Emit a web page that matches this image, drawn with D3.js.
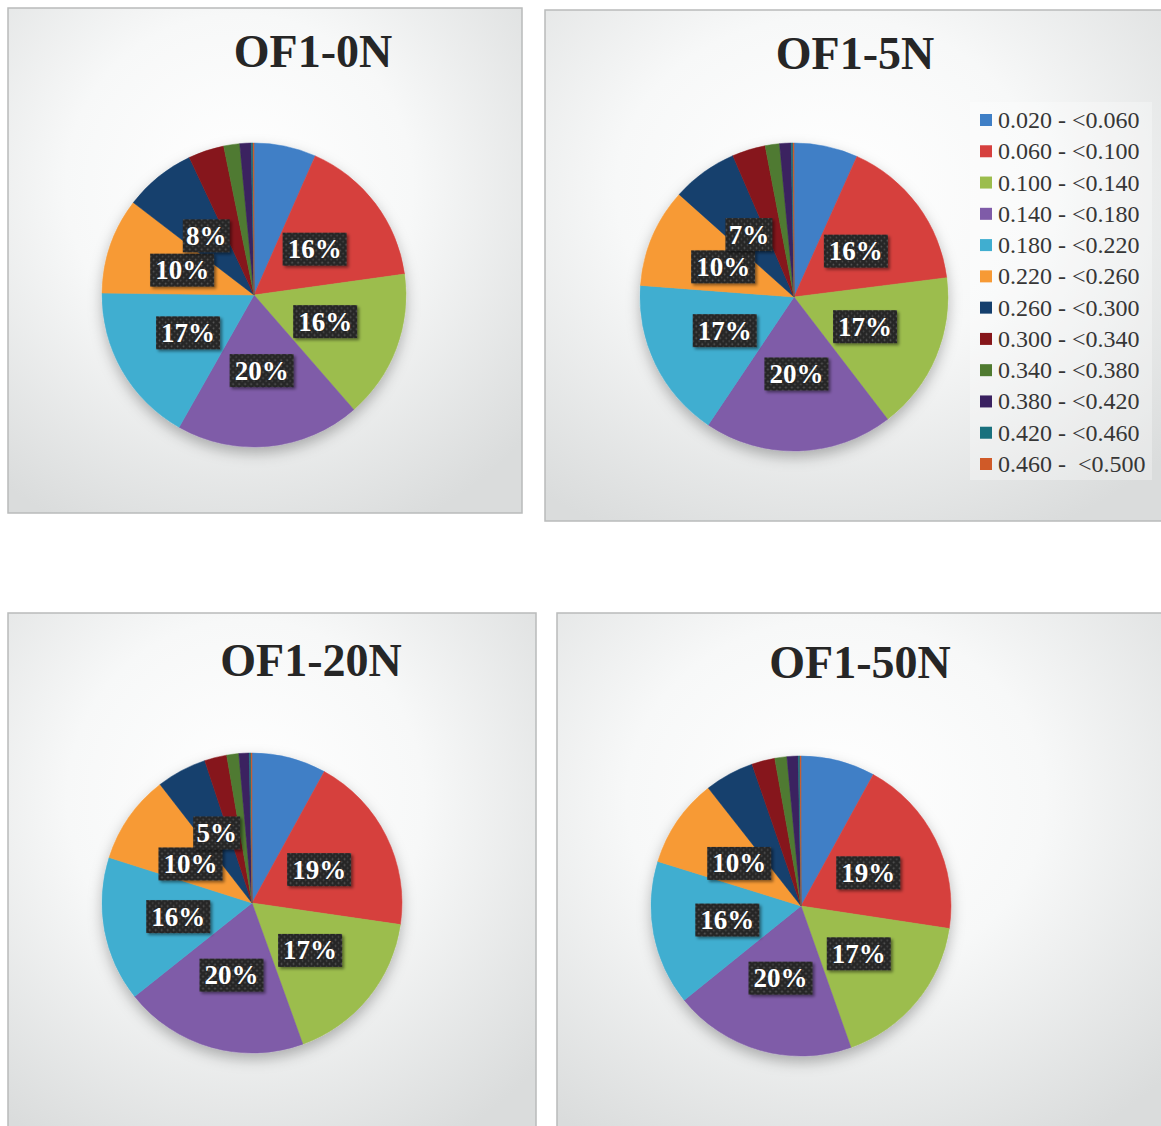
<!DOCTYPE html>
<html><head><meta charset="utf-8">
<script src="https://cdn.jsdelivr.net/npm/d3@7"></script>
<style>
html,body{margin:0;padding:0;background:#fff;}
svg{display:block;}
</style></head>
<body>
<svg id="chart" width="1161" height="1126"></svg>
<script>
// ---------- DATA ----------
const categories = ["0.020 - <0.060","0.060 - <0.100","0.100 - <0.140","0.140 - <0.180",
  "0.180 - <0.220","0.220 - <0.260","0.260 - <0.300","0.300 - <0.340",
  "0.340 - <0.380","0.380 - <0.420","0.420 - <0.460","0.460 -  <0.500"];
const titles = ["OF1-0N","OF1-5N","OF1-20N","OF1-50N"];
const values0N  = [6.6,16.2,15.8,19.6,17.0,10.2,7.6,3.8,1.7,1.2,0.2,0.1];
const values5N  = [6.7,16.3,16.6,19.8,16.8,10.4,6.9,3.5,1.5,1.2,0.2,0.1];
const values20N = [8.0,19.3,17.2,19.8,15.6,9.6,5.4,2.4,1.3,1.1,0.2,0.1];
const values50N = [8.0,19.4,17.2,19.6,15.6,9.6,5.3,2.5,1.3,1.2,0.2,0.1];
// which slices carry a data label (category indices)
const labeled0N  = [1,2,3,4,5,6];
const labeled5N  = [1,2,3,4,5,6];
const labeled20N = [1,2,3,4,5,6];
const labeled50N = [1,2,3,4,5];

// ---------- STYLE / LAYOUT ----------
const colors = ["#3f7fc6","#d6403e","#9cbd4d","#7f5ba8","#40aed0","#f79a35",
  "#143f6d","#86161a","#4f7a30","#3a2160","#19707d","#d05a28"];
const layout = [
  {x:8,  y:8,   w:514, h:505, cx:254, cy:295, r:152, tx:313, ty:67},
  {x:545,y:10,  w:630, h:511, cx:794, cy:297, r:154, tx:855, ty:69},
  {x:8,  y:613, w:528, h:530, cx:252, cy:903, r:150, tx:311, ty:676},
  {x:557,y:613, w:620, h:530, cx:801, cy:906, r:150, tx:860, ty:678}
];
const allValues = [values0N, values5N, values20N, values50N];
const allLabeled = [labeled0N, labeled5N, labeled20N, labeled50N];

const svg = d3.select("#chart");
const defs = svg.append("defs");

const bg = defs.append("radialGradient").attr("id","bg")
  .attr("cx","45%").attr("cy","35%").attr("r","75%");
bg.append("stop").attr("offset","0%").attr("stop-color","#ffffff");
bg.append("stop").attr("offset","45%").attr("stop-color","#f7f8f8");
bg.append("stop").attr("offset","100%").attr("stop-color","#dadcdc");

const sh = defs.append("filter").attr("id","pieShadow")
  .attr("x","-20%").attr("y","-20%").attr("width","140%").attr("height","145%");
sh.append("feDropShadow").attr("dx",0).attr("dy",6).attr("stdDeviation",7)
  .attr("flood-color","#000").attr("flood-opacity",0.28);

const lsh = defs.append("filter").attr("id","lblShadow")
  .attr("x","-20%").attr("y","-20%").attr("width","150%").attr("height","160%");
lsh.append("feDropShadow").attr("dx",2).attr("dy",2).attr("stdDeviation",1.5)
  .attr("flood-color","#000").attr("flood-opacity",0.45);

const pat = defs.append("pattern").attr("id","dots").attr("patternUnits","userSpaceOnUse")
  .attr("width",6).attr("height",6);
pat.append("rect").attr("width",6).attr("height",6).attr("fill","#262626");
pat.append("circle").attr("cx",1.5).attr("cy",1.5).attr("r",0.9).attr("fill","#5a5a5a");
pat.append("circle").attr("cx",4.5).attr("cy",4.5).attr("r",0.9).attr("fill","#4a4a4a");

const serif = "'Liberation Serif','DejaVu Serif',serif";
const pie = d3.pie().sort(null).value(d => d);
const fmt = d3.format(".0%");
const MIN_GAP = 31; // minimal vertical distance between overlapping label centres

layout.forEach((L, i) => {
  const vals = allValues[i];
  const total = d3.sum(vals);
  const g = svg.append("g");
  g.append("rect").attr("x",L.x).attr("y",L.y).attr("width",L.w).attr("height",L.h)
    .attr("fill","url(#bg)").attr("stroke","#b9bbbb").attr("stroke-width",1.5);
  g.append("text").attr("x",L.tx).attr("y",L.ty).attr("text-anchor","middle")
    .attr("font-family",serif).attr("font-weight","bold").attr("font-size",46)
    .attr("fill","#262626").text(titles[i]);
  const arc = d3.arc().innerRadius(0).outerRadius(L.r);
  const lblArc = d3.arc().innerRadius(L.r*0.5).outerRadius(L.r*0.5);
  const arcs = pie(vals);
  const pg = g.append("g").attr("transform",`translate(${L.cx},${L.cy})`);
  pg.append("g").attr("filter","url(#pieShadow)")
    .selectAll("path").data(arcs).join("path")
    .attr("d",arc).attr("fill",(d,j)=>colors[j])
    .attr("stroke",(d,j)=>colors[j]).attr("stroke-width",0.5);

  // label positions at half radius, nudged apart if texts would collide
  const lbls = arcs.filter((d,j)=>allLabeled[i].includes(j)).map(d=>{
    const c = lblArc.centroid(d);
    const txt = fmt(d.value/total);
    return {txt, x:c[0], y:c[1], w: txt.length===2 ? 47 : 64};
  });
  for (let a=0;a<lbls.length;a++) for (let b=a+1;b<lbls.length;b++){
    const A=lbls[a], B=lbls[b];
    const dx=Math.abs(A.x-B.x), dy=Math.abs(A.y-B.y);
    if (dx < (A.w+B.w)/2 - 12 && dy < MIN_GAP){
      const push=(MIN_GAP-dy)/2, s = A.y<=B.y ? -1 : 1;
      A.y += s*push; B.y -= s*push;
    }
  }
  const lg = pg.selectAll("g.lbl").data(lbls).join("g").attr("class","lbl")
    .attr("transform",d=>`translate(${d.x},${d.y})`);
  lg.append("rect").attr("x",d=>-d.w/2).attr("y",-16.5)
    .attr("width",d=>d.w).attr("height",33).attr("fill","url(#dots)")
    .attr("filter","url(#lblShadow)");
  lg.append("text").attr("text-anchor","middle").attr("y",9)
    .attr("font-family",serif).attr("font-weight","bold").attr("font-size",27)
    .attr("fill","#ffffff").text(d=>d.txt);
});

// legend (panel 2)
const leg = svg.append("g");
leg.append("rect").attr("x",970).attr("y",102).attr("width",182).attr("height",378)
  .attr("fill","#ffffff").attr("opacity",0.3);
const ly = d3.scalePoint().domain(categories).range([120,464]);
const items = leg.selectAll("g.it").data(categories).join("g").attr("class","it")
  .attr("transform",d=>`translate(980,${ly(d)})`);
items.append("rect").attr("x",0).attr("y",-6).attr("width",12).attr("height",12)
  .attr("fill",(d,j)=>colors[j]);
items.append("text").attr("x",18).attr("y",8).attr("font-family",serif)
  .attr("font-size",24).attr("fill","#363636").attr("xml:space","preserve").text(d=>d);
</script>
</body></html>
